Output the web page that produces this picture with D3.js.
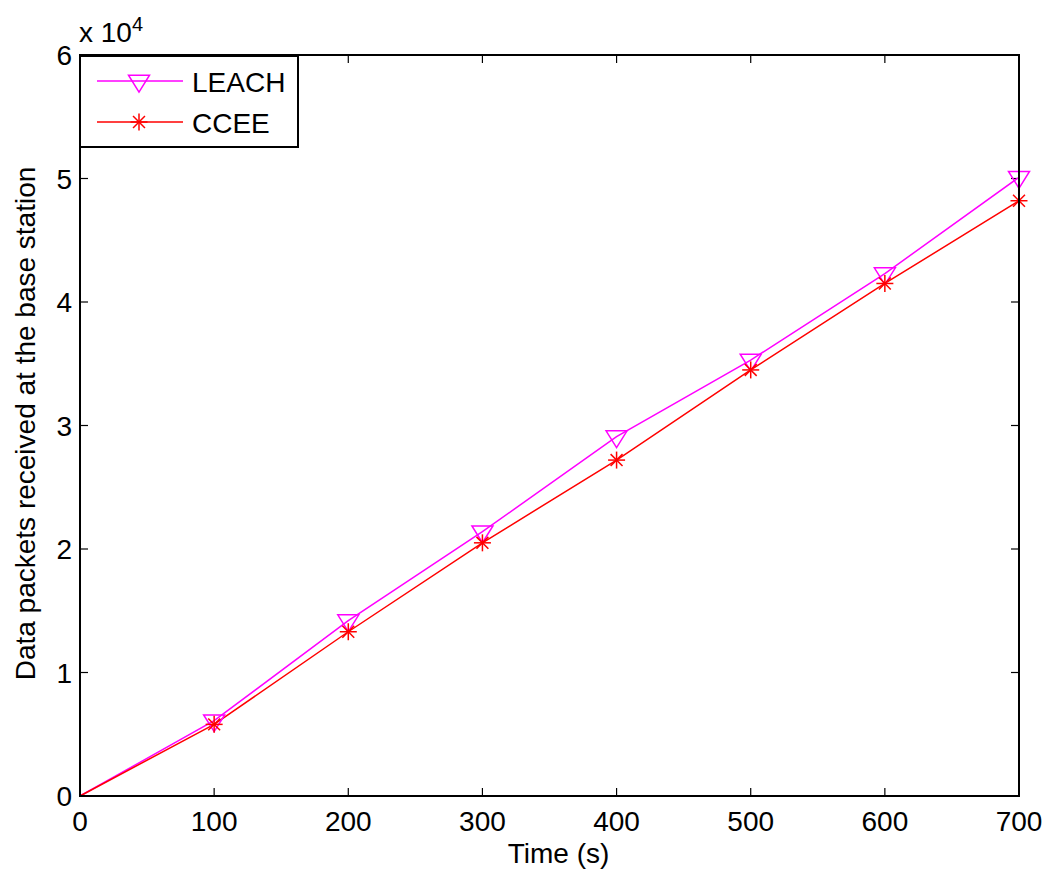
<!DOCTYPE html>
<html>
<head>
<meta charset="utf-8">
<script src="https://cdn.jsdelivr.net/npm/d3@7"></script>
<style>
  body { margin: 0; background: #fff; }
  svg { display: block; }
  text { font-family: "Liberation Sans", Arial, sans-serif; fill: #000; }
</style>
</head>
<body>
<svg id="chart" width="1049" height="877"></svg>
<script>
// Simulation time (s) and cumulative packets received at the base station
const times = [0, 100, 200, 300, 400, 500, 600, 700];
const leach = [0, 6100, 14200, 21400, 29100, 35300, 42300, 50100];
const ccee  = [0, 5800, 13300, 20500, 27200, 34500, 41500, 48200];
const xTicks = [0, 100, 200, 300, 400, 500, 600, 700];
const yTicks = [0, 1, 2, 3, 4, 5, 6];   // in units of 10^4
const seriesNames = ["LEACH", "CCEE"];
const seriesColors = ["#ff00ff", "#ff0000"];

const svg = d3.select("#chart");
const m = { left: 80, right: 1019, top: 55, bottom: 796 };

const x = d3.scaleLinear().domain([0, 700]).range([m.left, m.right]);
const y = d3.scaleLinear().domain([0, 60000]).range([m.bottom, m.top]);

const tickLen = 8;
const fs = 28;

// Ticks (inward, on all four sides)
const g = svg.append("g");
xTicks.forEach(t => {
  g.append("line").attr("x1", x(t)).attr("x2", x(t)).attr("y1", m.bottom).attr("y2", m.bottom - tickLen)
    .attr("stroke", "#000").attr("stroke-width", 1.2);
  g.append("line").attr("x1", x(t)).attr("x2", x(t)).attr("y1", m.top).attr("y2", m.top + tickLen)
    .attr("stroke", "#000").attr("stroke-width", 1.2);
  g.append("text").attr("x", x(t)).attr("y", 831).attr("text-anchor", "middle")
    .attr("font-size", fs).text(t);
});
yTicks.forEach(t => {
  g.append("line").attr("x1", m.left).attr("x2", m.left + tickLen).attr("y1", y(t * 1e4)).attr("y2", y(t * 1e4))
    .attr("stroke", "#000").attr("stroke-width", 1.2);
  g.append("line").attr("x1", m.right).attr("x2", m.right - tickLen).attr("y1", y(t * 1e4)).attr("y2", y(t * 1e4))
    .attr("stroke", "#000").attr("stroke-width", 1.2);
  g.append("text").attr("x", 72).attr("y", y(t * 1e4) + 10).attr("text-anchor", "end")
    .attr("font-size", fs).text(t);
});

// Axis exponent
const exp = svg.append("text").attr("x", m.left - 1).attr("y", 42).attr("font-size", fs);
exp.append("tspan").text("x 10");
exp.append("tspan").attr("dy", -11).attr("font-size", 20).text("4");

// Axis labels
svg.append("text").attr("x", (m.left + m.right) / 2 + 9).attr("y", 863).attr("text-anchor", "middle")
  .attr("font-size", fs).text("Time (s)");
svg.append("text").attr("transform", `translate(35, ${(m.top + m.bottom) / 2 - 2}) rotate(-90)`)
  .attr("text-anchor", "middle").attr("font-size", fs).text("Data packets received at the base station");

// Series
const lineGen = d3.line().x((d, i) => x(times[i])).y(d => y(d));
const triPath = s => `M${-s},${-s * 0.55}L${s},${-s * 0.55}L0,${s * 1.05}Z`;
function star(sel, cx, cy, color) {
  const r = 8.5;
  const gs = sel.append("g").attr("transform", `translate(${cx},${cy})`)
    .attr("stroke", color).attr("stroke-width", 1.5);
  [[-r, 0, r, 0], [0, -r, 0, r], [-r * 0.7, -r * 0.7, r * 0.7, r * 0.7], [-r * 0.7, r * 0.7, r * 0.7, -r * 0.7]]
    .forEach(l => gs.append("line").attr("x1", l[0]).attr("y1", l[1]).attr("x2", l[2]).attr("y2", l[3]));
}

const plot = svg.append("g");
plot.append("path").datum(leach).attr("d", lineGen).attr("fill", "none")
  .attr("stroke", seriesColors[0]).attr("stroke-width", 1.5);
plot.append("path").datum(ccee).attr("d", lineGen).attr("fill", "none")
  .attr("stroke", seriesColors[1]).attr("stroke-width", 1.5);
// Markers from the first sample onward (origin carries no marker)
leach.forEach((v, i) => {
  if (i === 0) return;
  plot.append("path").attr("d", triPath(10.5)).attr("transform", `translate(${x(times[i])},${y(v)})`)
    .attr("fill", "none").attr("stroke", seriesColors[0]).attr("stroke-width", 1.5);
});
ccee.forEach((v, i) => { if (i > 0) star(plot, x(times[i]), y(v), seriesColors[1]); });

// Axes box
svg.append("rect").attr("x", m.left).attr("y", m.top).attr("width", m.right - m.left).attr("height", m.bottom - m.top)
  .attr("fill", "none").attr("stroke", "#000").attr("stroke-width", 2);

// Legend
const lg = svg.append("g");
lg.append("rect").attr("x", 80).attr("y", 56).attr("width", 218).attr("height", 91)
  .attr("fill", "#fff").attr("stroke", "#000").attr("stroke-width", 2);
const legY = [81, 122];
seriesNames.forEach((name, i) => {
  lg.append("line").attr("x1", 97).attr("x2", 183).attr("y1", legY[i]).attr("y2", legY[i])
    .attr("stroke", seriesColors[i]).attr("stroke-width", 1.5);
  if (i === 0) {
    lg.append("path").attr("d", triPath(10.5)).attr("transform", `translate(139,${legY[i]})`)
      .attr("fill", "none").attr("stroke", seriesColors[i]).attr("stroke-width", 1.5);
  } else {
    star(lg, 139, legY[i], seriesColors[i]);
  }
  lg.append("text").attr("x", 192).attr("y", legY[i] + 11).attr("font-size", fs).text(name);
});
</script>
</body>
</html>
